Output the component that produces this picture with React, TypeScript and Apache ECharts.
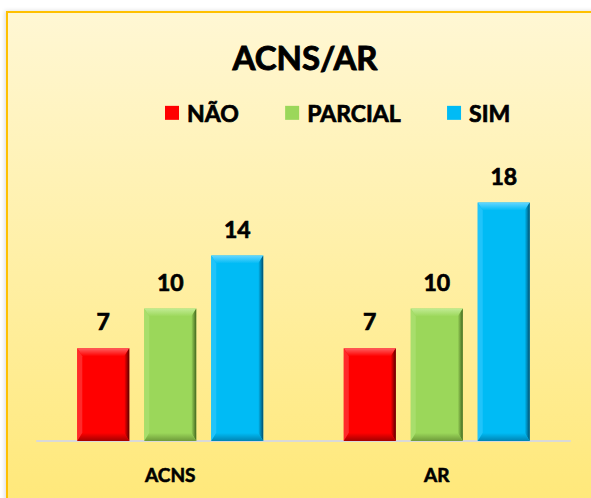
import React, { useEffect, useRef } from "react";
import * as echarts from "echarts";

const categories = ["ACNS", "AR"];
const seriesNames = ["NÃO", "PARCIAL", "SIM"];
const naoValues = [7, 7];
const parcialValues = [10, 10];
const simValues = [14, 18];
const chartTitle = "ACNS/AR";

const palettes = [
  { main: "#FF0000", top: "#FF6060", left: "#FF2A2A", right: "#5A0000", bottom: "#A30000" },
  { main: "#9BD75A", top: "#C2EC94", left: "#A8DE6C", right: "#44671E", bottom: "#6E9B3A" },
  { main: "#00BBF5", top: "#66D6FF", left: "#20C4FA", right: "#004E6E", bottom: "#0084B3" },
];

const FONT = "Lato, 'Open Sans', sans-serif";

export default function App() {
  const ref = useRef<HTMLDivElement>(null);
  useEffect(() => {
    if (!ref.current) return;
    const chart = echarts.init(ref.current, null, { renderer: "svg" });
    const allValues = [naoValues, parcialValues, simValues];
    const barFrac = 0.195;
    const gapFrac = 0.0563;

    const makeSeries = (idx: number) => {
      const pal = palettes[idx];
      return {
        type: "custom",
        name: seriesNames[idx],
        itemStyle: { color: pal.main },
        data: allValues[idx].map((v, i) => [i, v]),
        encode: { x: 0, y: 1 },
        renderItem: (params: any, api: any) => {
          const ci = api.value(0);
          const val = api.value(1);
          const band = api.size([1, 0])[0];
          const top = api.coord([ci, val]);
          const base = api.coord([ci, 0]);
          const w = band * barFrac;
          const cx = top[0] + (idx - 1) * (barFrac + gapFrac) * band;
          const x0 = cx - w / 2;
          const x1 = cx + w / 2;
          const y0 = top[1];
          const y1 = base[1];
          const b = 8;
          const s = 5;
          return {
            type: "group",
            children: [
              { type: "rect", shape: { x: x0, y: y0, width: w, height: y1 - y0 }, style: { fill: pal.main } },
              {
                type: "polygon",
                shape: { points: [[x0, y0], [x1, y0], [x1 - s, y0 + b], [x0 + s, y0 + b]] },
                style: {
                  fill: new echarts.graphic.LinearGradient(0, 0, 0, 1, [
                    { offset: 0, color: pal.top },
                    { offset: 1, color: pal.main },
                  ]),
                },
              },
              {
                type: "polygon",
                shape: { points: [[x0, y0], [x0 + s, y0 + b], [x0 + s, y1 - b], [x0, y1]] },
                style: { fill: pal.left },
              },
              {
                type: "polygon",
                shape: { points: [[x1, y0], [x1, y1], [x1 - s, y1 - b], [x1 - s, y0 + b]] },
                style: {
                  fill: new echarts.graphic.LinearGradient(0, 0, 1, 0, [
                    { offset: 0, color: pal.main },
                    { offset: 1, color: pal.right },
                  ]),
                },
              },
              {
                type: "polygon",
                shape: { points: [[x0, y1], [x0 + s, y1 - b], [x1 - s, y1 - b], [x1, y1]] },
                style: {
                  fill: new echarts.graphic.LinearGradient(0, 0, 0, 1, [
                    { offset: 0, color: pal.main },
                    { offset: 1, color: pal.bottom },
                  ]),
                },
              },
              {
                type: "text",
                style: {
                  x: cx,
                  y: y0 - 27,
                  text: String(val),
                  fill: "#000",
                  stroke: "#000",
                  lineWidth: 0.7,
                  font: `bold 23px ${FONT}`,
                  textAlign: "center",
                  textVerticalAlign: "middle",
                },
              },
            ],
          };
        },
      };
    };

    chart.setOption({
      animation: false,
      backgroundColor: "#FFFFFF",
      graphic: [
        {
          type: "rect",
          z: -10,
          silent: true,
          shape: { x: 7, y: 12, width: 600, height: 500 },
          style: {
            fill: new echarts.graphic.LinearGradient(0, 0, 0, 1, [
              { offset: 0, color: "#FFF7D4" },
              { offset: 1, color: "#FFE878" },
            ]),
            stroke: "#FFC000",
            lineWidth: 2,
            shadowBlur: 4,
            shadowColor: "rgba(0,0,0,0.15)",
            shadowOffsetX: -1,
          },
        },
      ],
      title: {
        text: chartTitle,
        left: 300,
        textAlign: "center",
        top: 35,
        textStyle: {
          fontFamily: FONT,
          fontWeight: "bold",
          fontSize: 33,
          color: "#000",
          textBorderColor: "#000",
          textBorderWidth: 0.9,
        },
      },
      legend: {
        data: seriesNames,
        top: 96,
        left: 160,
        itemWidth: 14,
        itemHeight: 14,
        itemGap: 46,
        icon: "rect",
        textStyle: {
          fontFamily: FONT,
          fontWeight: "bold",
          fontSize: 23,
          color: "#000",
          padding: [0, 0, 0, 3],
          textBorderColor: "#000",
          textBorderWidth: 0.7,
        },
      },
      grid: { left: 37, right: 21, top: 176, bottom: 57 },
      xAxis: {
        type: "category",
        data: categories,
        axisLine: { lineStyle: { color: "#D9D9D9", width: 2 } },
        axisTick: { show: false },
        axisLabel: {
          fontFamily: FONT,
          fontWeight: "bold",
          fontSize: 19,
          color: "#000",
          margin: 24,
          textBorderColor: "#000",
          textBorderWidth: 0.6,
        },
      },
      yAxis: {
        type: "value",
        min: 0,
        max: 20,
        interval: 2,
        show: false,
        splitLine: { show: false },
      },
      series: [makeSeries(0), makeSeries(1), makeSeries(2)],
    });
    return () => chart.dispose();
  }, []);
  return (
    <div
      ref={ref}
      style={{ position: "fixed", left: 0, top: 0, width: 591, height: 498 }}
    />
  );
}
